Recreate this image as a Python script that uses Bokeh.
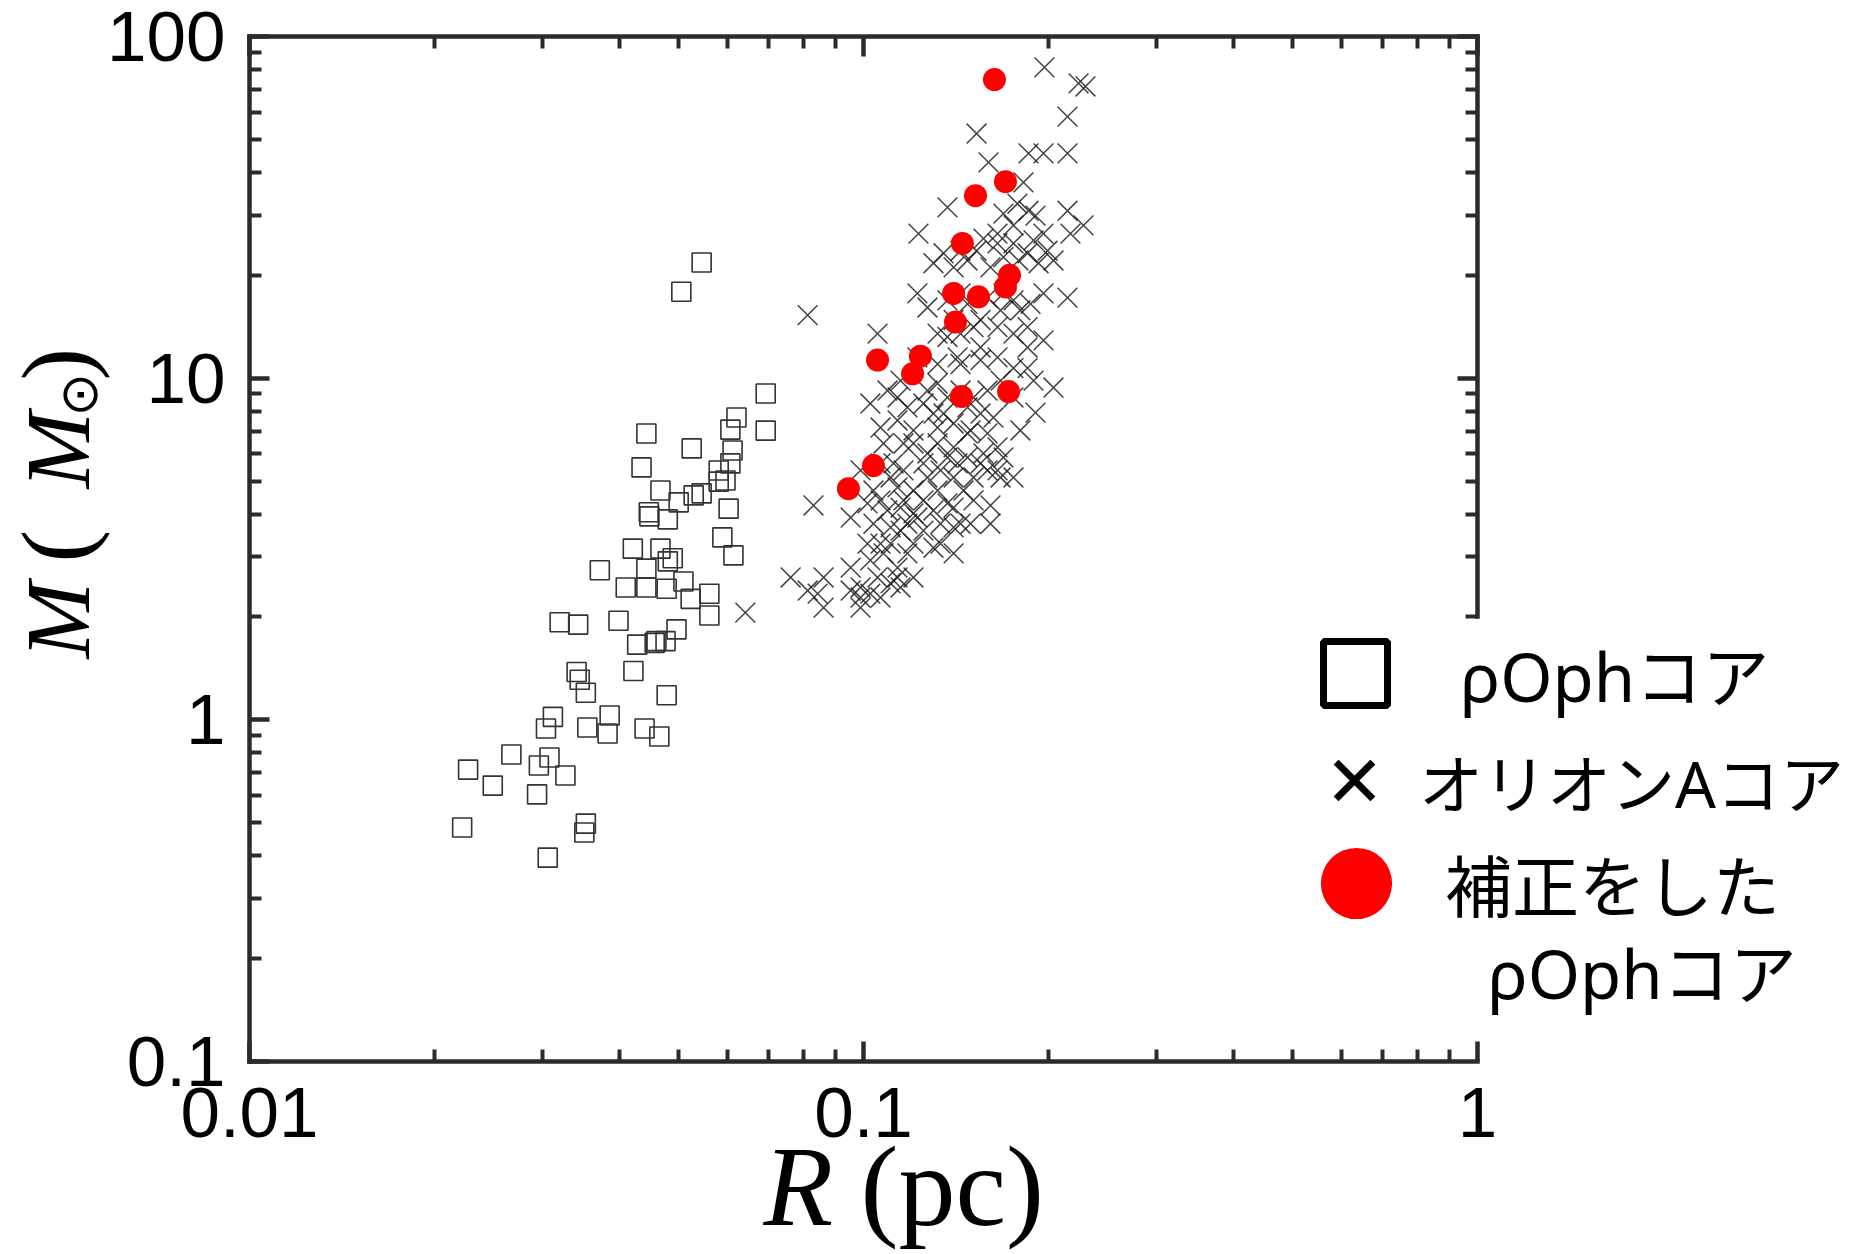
import math
from bokeh.plotting import figure
from bokeh.models import (Range1d, LogAxis, FixedTicker, CustomJSTickFormatter,
                          Label, Legend, LegendItem)
from bokeh.embed import file_html
from bokeh.resources import INLINE

# ---------------- data ----------------
# rho Oph cores (open squares)
oph_R = [0.0545, 0.0505, 0.0693, 0.0621, 0.0607, 0.0693, 0.0443, 0.0525, 0.0612, 0.0607,
         0.0435, 0.0581, 0.0596, 0.0581, 0.0467, 0.0500, 0.0529, 0.0545, 0.0447, 0.0448,
         0.0480, 0.0603, 0.0589, 0.0614, 0.0421, 0.0467, 0.0480, 0.0489, 0.0372, 0.0410,
         0.0443, 0.0443, 0.0478, 0.0509, 0.0523, 0.0561, 0.0561, 0.0320, 0.0343, 0.0399,
         0.0496, 0.0428, 0.0457, 0.0460, 0.0476, 0.0422, 0.0341, 0.0345, 0.0353, 0.0478,
         0.0312, 0.0304, 0.0355, 0.0386, 0.0383, 0.0440, 0.0465, 0.0267, 0.0308, 0.0296,
         0.0327, 0.0227, 0.0249, 0.0294, 0.0222, 0.0353, 0.0351, 0.0306]
oph_M = [21.8, 17.9, 9.02, 7.67, 7.07, 7.02, 6.89, 6.23, 6.14, 5.63,
         5.48, 5.37, 5.02, 4.98, 4.69, 4.33, 4.54, 4.60, 4.05, 3.94,
         3.86, 4.15, 3.42, 3.03, 3.17, 3.17, 2.91, 2.97, 2.74, 2.44,
         2.44, 2.77, 2.42, 2.54, 2.26, 2.34, 2.02, 1.93, 1.90, 1.95,
         1.84, 1.66, 1.68, 1.70, 1.70, 1.39, 1.38, 1.31, 1.20, 1.18,
         1.02, 0.943, 0.950, 1.03, 0.912, 0.943, 0.894, 0.792, 0.776, 0.735,
         0.687, 0.715, 0.642, 0.605, 0.484, 0.497, 0.468, 0.395]

# Orion A cores (crosses)
ori_R = [0.1971, 0.2240, 0.2299, 0.2149, 0.1528, 0.1857, 0.1964, 0.2149, 0.1598, 0.1822,
         0.1370, 0.2149, 0.2282, 0.2173, 0.1229, 0.1690, 0.1781, 0.1857, 0.1906, 0.1568,
         0.1653, 0.1755, 0.1892, 0.1994, 0.1850, 0.2039, 0.1350, 0.1300, 0.1402, 0.1477,
         0.1610, 0.1690, 0.1788, 0.1928, 0.1964, 0.1871, 0.1224, 0.1271, 0.1370, 0.1477,
         0.1592, 0.1755, 0.1801, 0.0811, 0.1054, 0.1551, 0.1653, 0.1755, 0.1439,
         0.1370, 0.1850, 0.1653, 0.1551, 0.1439, 0.1320, 0.1755, 0.1892, 0.2039, 0.1906,
         0.1592, 0.1320, 0.1370, 0.1136, 0.1179, 0.1252, 0.1300, 0.1477, 0.1551, 0.1628,
         0.1066, 0.1136, 0.1206, 0.1320, 0.1402, 0.1494, 0.1592, 0.1653, 0.1206, 0.1271,
         0.1370, 0.1423, 0.1477, 0.1551, 0.1653, 0.1119, 0.1162, 0.1335, 0.1402, 0.1511,
         0.1672, 0.1136, 0.1206, 0.1320, 0.1455, 0.1610, 0.0829, 0.0953, 0.1015, 0.1066,
         0.1094, 0.1149, 0.1206, 0.1300, 0.1402, 0.1038, 0.1107, 0.1179, 0.1252, 0.1335,
         0.1402, 0.1300, 0.1107, 0.1026, 0.1078, 0.1136, 0.0761, 0.0811, 0.0842, 0.0861,
         0.0989, 0.0989, 0.1026, 0.1107, 0.1149, 0.1136, 0.0642,
         0.1755, 0.1653, 0.1528, 0.1964, 0.1690, 0.1439, 0.1672, 0.1511, 0.1402, 0.1320,
         0.1850, 0.1964, 0.2149, 0.1439,
         0.1162, 0.1252, 0.1320, 0.1402, 0.1477, 0.1568, 0.1271, 0.1370, 0.1252, 0.1162,
         0.1107, 0.1066, 0.1439, 0.1511, 0.1592, 0.1690, 0.1206, 0.1149, 0.1066, 0.1179,
         0.1224, 0.1015, 0.1054, 0.0953, 0.0953, 0.0861, 0.0989, 0.1066, 0.1206, 0.1335,
         0.1402, 0.1494, 0.1610, 0.1755, 0.1801, 0.1755, 0.1672, 0.1439, 0.1271, 0.1149,
         0.1094, 0.1026, 0.1078, 0.0989, 0.1038, 0.1350, 0.1511, 0.1850, 0.1551, 0.1423,
         0.1224]
ori_M = [81.2, 72.9, 71.4, 58.3, 52.0, 45.5, 45.5, 45.5, 42.8, 37.4,
         31.6, 30.9, 28.0, 26.5, 26.5, 30.3, 32.4, 30.9, 29.9, 25.6,
         26.5, 24.8, 25.3, 23.6, 23.2, 22.1, 23.2, 21.7, 21.1, 22.1,
         21.1, 22.6, 22.1, 21.7, 17.7, 16.5, 17.7, 16.1, 16.9, 16.5,
         17.2, 16.9, 15.8, 15.3, 13.5, 14.8, 14.1, 13.5, 13.5,
         13.2, 12.3, 11.5, 11.3, 11.0, 11.0, 10.7, 9.84, 9.39, 7.93,
         9.20, 9.65, 8.78, 8.78, 8.21, 8.43, 7.88, 8.21, 7.88, 7.67,
         7.17, 7.52, 7.03, 7.17, 7.37, 7.03, 6.89, 6.27, 6.44, 6.02,
         5.86, 5.63, 5.86, 5.63, 5.37, 5.63, 5.37, 5.37, 5.12, 5.12,
         5.12, 4.79, 4.69, 4.69, 4.69, 4.24, 4.24, 3.91, 4.30, 4.39,
         4.10, 4.18, 4.02, 4.10, 4.18, 3.75, 3.66, 3.75, 3.58, 3.75,
         3.66, 3.19, 3.28, 2.93, 3.07, 2.79, 2.61, 2.39, 2.34, 2.13,
         2.44, 2.28, 2.34, 2.51, 2.44, 2.61, 2.06,
         28.0, 24.8, 23.6, 26.5, 17.7, 17.7, 15.8, 14.1, 14.8, 13.5,
         14.1, 12.9, 17.2, 23.6,
         6.44, 5.63, 6.44, 6.27, 6.89, 6.02, 5.12, 4.30, 4.39, 4.39,
         5.12, 5.63, 3.75, 4.39, 5.37, 5.86, 3.28, 3.58, 3.28, 3.07,
         3.91, 3.28, 2.61, 2.79, 2.39, 2.61, 2.13, 2.28, 2.61, 3.28,
         3.07, 3.75, 3.75, 5.12, 7.03, 8.78, 9.84, 9.20, 9.20, 9.84,
         9.20, 8.43, 6.44, 5.37, 4.69, 7.88, 8.78, 10.7, 12.3, 11.5,
         11.5]

# corrected rho Oph cores (red dots)
cor_R = [0.1634, 0.1703, 0.1522, 0.1449, 0.1729, 0.1703, 0.1402, 0.1539, 0.1412, 0.1054,
         0.1238, 0.1202, 0.1444, 0.1723, 0.1038, 0.0945]
cor_M = [74.8, 37.6, 34.2, 24.8, 20.0, 18.5, 17.7, 17.3, 14.6, 11.3,
         11.6, 10.3, 8.84, 9.14, 5.55, 4.75]

# axes
x_ticks = [0.01, 0.1, 1]
x_tick_labels = ["0.01", "0.1", "1"]
x_minor = [0.02, 0.03, 0.04, 0.05, 0.06, 0.07, 0.08, 0.09,
           0.2, 0.3, 0.4, 0.5, 0.6, 0.7, 0.8, 0.9]
y_ticks = [0.1, 1, 10, 100]
y_tick_labels = ["0.1", "1", "10", "100"]
y_minor = [0.2, 0.3, 0.4, 0.5, 0.6, 0.7, 0.8, 0.9,
           2, 3, 4, 5, 6, 7, 8, 9,
           20, 30, 40, 50, 60, 70, 80, 90]
# right axis is only drawn from M = 2 upward (the legend sits below)
y_ticks_right = [10, 100]
y_minor_right = [2, 3, 4, 5, 6, 7, 8, 9, 20, 30, 40, 50, 60, 70, 80, 90]

legend_labels = ["ρOphコア", "オリオンAコア", "補正をした", "ρOphコア"]

# ---------------- geometry (canvas pixels, origin top-left) ----------------
CAN_W, CAN_H = 1854, 1254
FR_L, FR_R, FR_T, FR_B = 249, 1477, 36, 1061     # plotting box inside the canvas


def sx(px):
    return px


def sy(py):
    return CAN_H - py


xl0, xl1 = math.log10(x_ticks[0]), math.log10(x_ticks[-1])
dx = (xl1 - xl0) / (FR_R - FR_L)
yl0, yl1 = math.log10(y_ticks[0]), math.log10(y_ticks[-1])
dy = (yl1 - yl0) / (FR_B - FR_T)
x_rng = Range1d(10 ** (xl0 - FR_L * dx), 10 ** (xl1 + (CAN_W - FR_R) * dx))
y_rng = Range1d(10 ** (yl0 - (CAN_H - FR_B) * dy), 10 ** (yl1 + FR_T * dy))

AX = "#2b2b2b"
SANS = "Liberation Sans"
JFONT = "Noto Sans, Noto Sans CJK JP"
SERIF = "Liberation Serif"

p = figure(width=CAN_W, height=CAN_H, x_axis_type="log", y_axis_type="log",
           x_range=x_rng, y_range=y_rng,
           output_backend="svg", toolbar_location=None,
           min_border=0)
p.xgrid.visible = False
p.ygrid.visible = False
p.outline_line_color = None
p.background_fill_color = "white"
p.border_fill_color = "white"

fmt_code = """
for (let i = 0; i < vals.length; i++) {
  if (Math.abs(Math.log10(tick) - Math.log10(vals[i])) < 1e-6) { return labs[i]; }
}
return "";
"""


def style_axis(ax, ticks, minor, labels, show, standoff=0):
    ax.ticker = FixedTicker(ticks=ticks, minor_ticks=minor)
    ax.axis_line_color = AX
    ax.axis_line_width = 4.5
    ax.axis_line_cap = "square"
    ax.major_tick_line_color = AX
    ax.major_tick_line_width = 4.5
    ax.minor_tick_line_color = AX
    ax.minor_tick_line_width = 4
    ax.major_tick_in = 20
    ax.major_tick_out = 0
    ax.minor_tick_in = 12
    ax.minor_tick_out = 0
    if show:
        ax.formatter = CustomJSTickFormatter(args=dict(vals=ticks, labs=labels), code=fmt_code)
        ax.major_label_text_font = SANS
        ax.major_label_text_font_size = "71px"
        ax.major_label_text_color = "black"
        ax.major_label_standoff = standoff
    else:
        ax.major_label_text_color = None
        ax.major_label_text_font_size = "1px"
        ax.major_label_standoff = 0


bottom = p.xaxis[0]
style_axis(bottom, x_ticks, x_minor, x_tick_labels, True, 26)
bottom.bounds = (x_ticks[0], x_ticks[-1])
bottom.fixed_location = y_ticks[0]

left = p.yaxis[0]
style_axis(left, y_ticks, y_minor, y_tick_labels, True, 24)
left.bounds = (y_ticks[0], y_ticks[-1])
left.fixed_location = x_ticks[0]

top = LogAxis(bounds=(x_ticks[0], x_ticks[-1]), fixed_location=y_ticks[-1])
style_axis(top, x_ticks, x_minor, x_tick_labels, False)
p.add_layout(top, "above")

right = LogAxis(bounds=(y_minor_right[0], y_ticks[-1]), fixed_location=x_ticks[-1])
style_axis(right, y_ticks_right, y_minor_right, y_tick_labels, False)
p.add_layout(right, "right")

# ---------------- data marks ----------------
p.scatter(oph_R, oph_M, marker="square", size=19, fill_color=None,
          line_color="#333333", line_width=1.6)
p.scatter(ori_R, ori_M, marker="x", size=28, line_color="#1a1a1a",
          line_alpha=0.82, line_width=1.5)
p.scatter(cor_R, cor_M, marker="circle", size=23, fill_color="#ff0000",
          line_color=None)

# ---------------- legend (proxy renderers, never drawn in the plot) ----------------
nan = float("nan")
lg_sq = p.scatter(x=[nan], y=[nan], marker="square", size=10, fill_color=None,
                  line_color="black", line_width=7)
lg_x = p.scatter(x=[nan], y=[nan], marker="x", size=10, line_color="black", line_width=7)
lg_c = p.scatter(x=[nan], y=[nan], marker="circle", size=10, fill_color="#ff0000",
                 line_color=None)


def add_legend(r, label, gw, left_px, bottom_px, standoff, fsize):
    leg = Legend(items=[LegendItem(label=label, renderers=[r])],
                 location=(sx(left_px), sy(bottom_px)),
                 glyph_width=gw, glyph_height=gw, label_standoff=standoff,
                 padding=0, margin=0, spacing=0, border_line_color=None,
                 background_fill_alpha=0, label_text_font=JFONT,
                 label_text_font_size=fsize, label_text_color="black",
                 label_height=20, label_width=20)
    p.add_layout(leg)


add_legend(lg_sq, legend_labels[0], 160, 1275, 753, 25, "67px")
add_legend(lg_x, legend_labels[1], 130, 1289, 845, 0, "64px")
add_legend(lg_c, legend_labels[2], 178, 1267, 972, 0, "67px")
p.add_layout(Label(x=sx(1487), y=sy(972), x_units="screen", y_units="screen",
                   text=legend_labels[3], text_font=JFONT, text_font_size="67px",
                   text_baseline="middle", text_align="left", text_color="black"))


# ---------------- axis titles ----------------
def lab(text, px, py, font, size, style="normal", angle=0.0):
    p.add_layout(Label(x=sx(px), y=sy(py), x_units="screen", y_units="screen", text=text,
                       text_font=font, text_font_size=f"{size}px", text_font_style=style,
                       angle=angle, text_align="left", text_baseline="alphabetic",
                       text_color="black"))


# x title: baseline at y=1228 (label anchor sits ~0.37 em above the baseline)
XF = 114
lab("R", 763, 1228 - 0.37 * XF, SERIF, XF, "italic")
lab("(pc)", 860, 1228 - 0.37 * XF, SERIF, XF)

# y title, rotated, baseline at x = 92
ROT = math.pi / 2
MF, PF = 92, 98
lab("M", 92 - 0.37 * MF, 658, SERIF, MF, "italic", ROT)
lab("(", 92 - 0.37 * PF, 562, SERIF, PF, "normal", ROT)
lab("M", 92 - 0.37 * MF, 488, SERIF, MF, "italic", ROT)
lab("⊙", 78, 416, "DejaVu Sans", 52, "normal", ROT)
lab(")", 92 - 0.37 * PF, 380, SERIF, PF, "normal", ROT)

open("out.html", "w").write(file_html(p, INLINE))
